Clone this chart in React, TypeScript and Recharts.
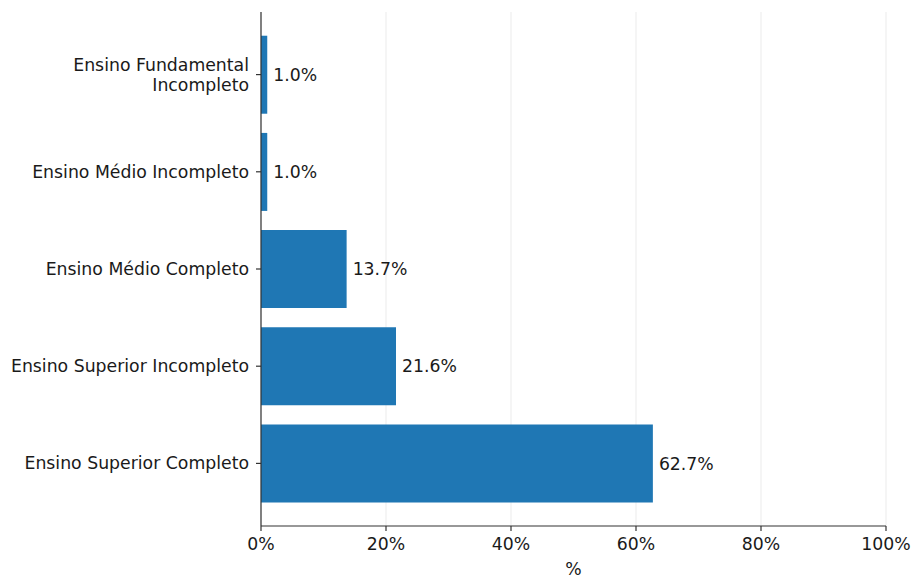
import { Bar, BarChart, CartesianGrid, LabelList, XAxis, YAxis } from "recharts";

const categories = [
  "Ensino Fundamental\nIncompleto",
  "Ensino Médio Incompleto",
  "Ensino Médio Completo",
  "Ensino Superior Incompleto",
  "Ensino Superior Completo",
];
const percents = [1.0, 1.0, 13.7, 21.6, 62.7];
const xTicks = [0, 20, 40, 60, 80, 100];

const data = categories.map((name, i) => ({ name, value: percents[i] }));

const font = "DejaVu Sans, sans-serif";
const fs = 17.3;
const textColor = "#1a1a1a";
const axisColor = "#333333";

function YTick(props: any) {
  const { x, y, payload } = props;
  const lines = String(payload.value).split("\n");
  const lineH = 20;
  const startY = y - ((lines.length - 1) * lineH) / 2;
  return (
    <text
      x={x}
      y={startY}
      textAnchor="end"
      dominantBaseline="central"
      fontFamily={font}
      fontSize={fs}
      fill={textColor}
    >
      {lines.map((l, i) => (
        <tspan key={i} x={x} y={startY + i * lineH}>
          {l}
        </tspan>
      ))}
    </text>
  );
}

export default function App() {
  return (
    <div style={{ position: "absolute", left: 0, top: 0 }}>
      <BarChart
        width={912}
        height={577}
        data={data}
        layout="vertical"
        margin={{ top: 12, right: 26, bottom: 0, left: 0 }}
        barCategoryGap="10%"
      >
        <CartesianGrid horizontal={false} stroke="#ebebeb" strokeWidth={1} />
        <XAxis
          type="number"
          domain={[0, 100]}
          ticks={xTicks}
          tickFormatter={(v) => `${v}%`}
          height={51}
          stroke={axisColor}
          strokeWidth={1.2}
          tickSize={5}
          tickMargin={7}
          tick={{ fill: textColor, fontSize: fs, fontFamily: font }}
          label={{
            value: "%",
            position: "insideBottom",
            offset: 2,
            fill: textColor,
            fontSize: fs,
            fontFamily: font,
          }}
        />
        <YAxis
          type="category"
          dataKey="name"
          width={261}
          padding={{ top: 14, bottom: 14 }}
          stroke={axisColor}
          strokeWidth={1.2}
          tickSize={5}
          tickMargin={7}
          tick={<YTick />}
          interval={0}
        />
        <Bar dataKey="value" fill="#1f77b4" isAnimationActive={false}>
          <LabelList
            dataKey="value"
            position="right"
            offset={6}
            formatter={(v: any) => `${Number(v).toFixed(1)}%`}
            style={{ fill: textColor, fontSize: fs, fontFamily: font }}
          />
        </Bar>
      </BarChart>
    </div>
  );
}
